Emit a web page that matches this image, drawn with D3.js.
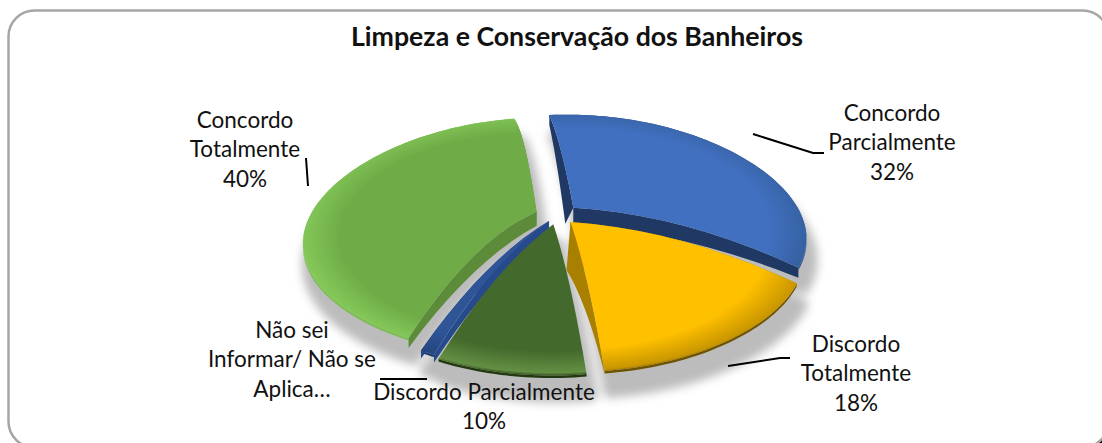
<!DOCTYPE html>
<html><head><meta charset="utf-8">
<script src="https://cdn.jsdelivr.net/npm/d3@7/dist/d3.min.js"></script>
<style>html,body{margin:0;padding:0;background:#fff}svg{display:block}text{font-family:Lato,"Open Sans",sans-serif;fill:#111}</style>
</head><body><svg id="c" width="1102" height="443"></svg>
<script>
const titleText = "Limpeza e Conservação dos Banheiros";
const categories = ["Concordo Parcialmente","Discordo Totalmente","Discordo Parcialmente","Não sei Informar/ Não se Aplica","Concordo Totalmente"];
const values = [32,18,10,1,40];
const topColors = ["#4270c0","#ffc000","#44692c","#2f5597","#6fac47"];
const wallColors = ["#1f3864","#a97f00","#2f4a1e","#264a8c","#5c8c3a"];
const rimColors = ["#34609f","#c89600","#638f43","#24467f","#86ca5a"];
const edgeColors = ["#2a4d8a","#6f5200","#22380f","#1f3b70","#7dbd55"];
const wallDepths = [16,48,0,10,14];
const wallEnds = [10,3,2,8,10];
const wallLeans = [-8,-4,0,0,0];
const bows = [6,6,6,7,12];
const explodes = [0.09,0.09,0.09,0.07,0.09];
const labelLines = [["Concordo","Parcialmente","32%"],["Discordo","Totalmente","18%"],["Discordo Parcialmente","10%"],["Não sei","Informar/ Não se","Aplica…"],["Concordo","Totalmente","40%"]];
const labelPos = [[892,121],[856,352],[484,400],[292,338],[245,128]];
const leaders = [[[753,134],[813,153],[824,153]],[[728,366],[780,358],[790,358]],[[380,379],[427,379]],[[306,158],[308,186]]];

const svg = d3.select("#c");
const defs = svg.append("defs");
const cx=557, cy=214, R=233.5, Ry=114.8, py=0.208, px=0.05, sag=22, rot=-6*Math.PI/180;

svg.append("rect").attr("x",1050).attr("y",395).attr("width",60).attr("height",60).attr("fill","#000");
svg.append("rect").attr("x",8.5).attr("y",10.5).attr("width",1100).attr("height",437).attr("rx",26)
  .attr("fill","#fff").attr("stroke","#a6a6a6").attr("stroke-width",2.5);

const pie = d3.pie().sort(null).startAngle(rot).endAngle(rot+2*Math.PI);
const arcs = pie(values);
function project(u,v){const y=v*Ry/(1-py*v);return [cx+u*R/(1-px*v),cy+y+sag*u*u];}
function pt(a,r,off){return project(off[0]+r*Math.sin(a),off[1]-r*Math.cos(a));}
const line=d3.line();
function rim(d,off){const n=Math.max(6,Math.ceil((d.endAngle-d.startAngle)*40));
  return d3.range(n+1).map(i=>pt(d.startAngle+(d.endAngle-d.startAngle)*i/n,1,off));}
function spoke(a,off,bow){return d3.range(0,1.001,0.1).map(r=>{const q=pt(a,r,off);return [q[0],q[1]-bow*4*r*(1-r)];});}
const slices=arcs.map((d,i)=>{const m=(d.startAngle+d.endAngle)/2;return {d,i,off:[explodes[i]*Math.sin(m),-explodes[i]*Math.cos(m)]};});
function topShape(s){const b=bows[s.i];return [...spoke(s.d.startAngle,s.off,b),...rim(s.d,s.off),...spoke(s.d.endAngle,s.off,b).reverse()];}

defs.append("filter").attr("id","blur").attr("x","-20%").attr("y","-20%").attr("width","140%").attr("height","140%")
  .append("feGaussianBlur").attr("stdDeviation",5);
const sh=svg.append("g").attr("filter","url(#blur)").attr("transform","translate(5,21)");
slices.forEach(s=>{sh.append("path").attr("d",line(topShape(s))+"Z").attr("fill","#bcbcbc").attr("stroke","#bcbcbc").attr("stroke-width",12).attr("stroke-linejoin","round");});

const order=[0,4,1,3,2];
order.forEach(i=>{const s=slices[i];const g=svg.append("g");
  const r=rim(s.d,s.off);
  const dep=wallDepths[i], end=wallEnds[i], lean=wallLeans[i], bow=bows[i];
  g.append("path").attr("d",line([...r,...r.map(q=>[q[0],q[1]+2.5]).reverse()])+"Z").attr("fill",edgeColors[i]);
  if(dep>0){
    const leanSide=i===1?1:0;
    [s.d.startAngle,s.d.endAngle].forEach((a,k)=>{
      const up=spoke(a,s.off,bow);
      const lo=up.map((q,j)=>{const t=j/(up.length-1);const li=k===leanSide?lean*(1-t):0;return [q[0]+li,q[1]+dep+(end-dep)*t+bow*0.4*4*t*(1-t)];});
      g.append("path").attr("d",line([...up,...lo.reverse()])+"Z").attr("fill",wallColors[i]);
    });
  }
  const c=project(0,0);
  const gr=defs.append("radialGradient").attr("id","g"+i).attr("gradientUnits","userSpaceOnUse")
    .attr("cx",0).attr("cy",0).attr("r",1)
    .attr("gradientTransform",`translate(${c[0]+s.off[0]*R},${c[1]+24+s.off[1]*120}) scale(${R*1.05},128)`);
  [[0,topColors[i]],[0.8,topColors[i]],[0.97,rimColors[i]],[1,edgeColors[i]]].forEach(st=>gr.append("stop").attr("offset",st[0]).attr("stop-color",st[1]));
  g.append("path").attr("d",line(topShape(s))+"Z").attr("fill",`url(#g${i})`);
});

svg.append("g").selectAll("path").data(leaders).join("path").attr("d",l=>line(l)).attr("fill","none").attr("stroke","#000").attr("stroke-width",2);

const lg=svg.append("g").attr("font-size",22.5).attr("text-anchor","middle");
labelLines.forEach((ls,i)=>{ls.forEach((t,j)=>lg.append("text").attr("x",labelPos[i][0]).attr("y",labelPos[i][1]+j*29.3).text(t));});
svg.append("text").attr("x",577).attr("y",46).attr("text-anchor","middle").attr("font-size",26.7).attr("font-weight",700).text(titleText);
</script></body></html>
